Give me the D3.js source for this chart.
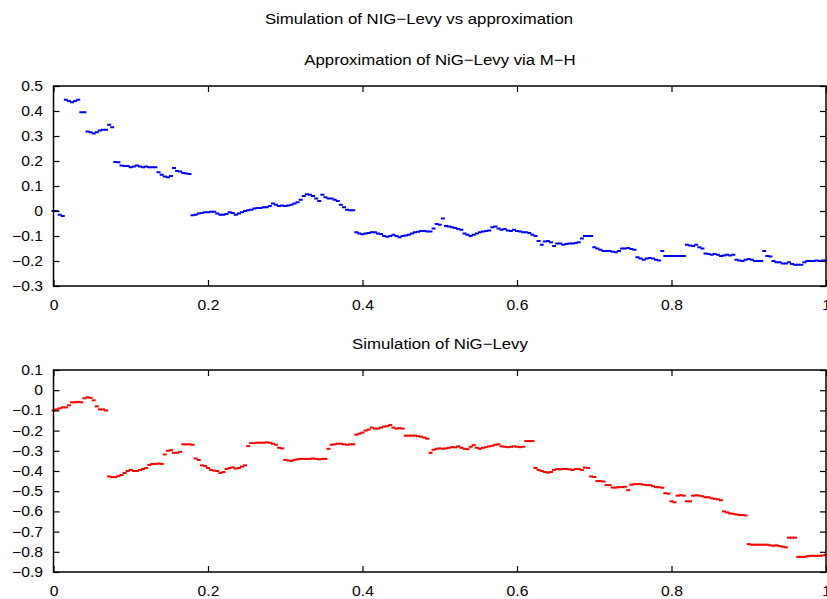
<!DOCTYPE html>
<html>
<head>
<meta charset="utf-8">
<script src="https://cdn.jsdelivr.net/npm/d3@7"></script>
<style>
  body { margin: 0; background: #fff; }
  svg { display: block; }
  .axis text { font-family: "Liberation Sans", Arial, sans-serif; font-size: 14px; fill: #000; }
  .axis line { stroke: #000; stroke-width: 1.2; }
  .title { font-family: "Liberation Sans", Arial, sans-serif; font-size: 15px; fill: #000; }
</style>
</head>
<body>
<div id="canvas"></div>
<script>
// sample spacing of both paths (regular time grid on [0,1])
var tStep = 0.004;

// M-H approximation path (one value per 0.004)
var approxPath = [
  0.0, 0.0, -0.015, -0.02, 0.445, 0.44, 0.435, 0.44, 0.445, 0.395,
  0.395, 0.318, 0.315, 0.31, 0.315, 0.322, 0.325, 0.325, 0.345, 0.335,
  0.196, 0.195, 0.182, 0.18, 0.18, 0.175, 0.178, 0.182, 0.178, 0.175,
  0.178, 0.175, 0.175, 0.175, 0.155, 0.145, 0.138, 0.135, 0.14, 0.172,
  0.16, 0.158, 0.152, 0.15, 0.148, -0.017, -0.015, -0.01, -0.008, -0.005,
  -0.005, -0.003, -0.003, -0.01, -0.015, -0.015, -0.012, -0.005, -0.008, -0.015,
  -0.01, -0.005, 0.0, 0.003, 0.005, 0.01, 0.012, 0.012, 0.015, 0.015,
  0.02, 0.03, 0.025, 0.02, 0.022, 0.02, 0.022, 0.025, 0.03, 0.035,
  0.045, 0.06, 0.067, 0.065, 0.06, 0.05, 0.04, 0.065, 0.055, 0.05,
  0.05, 0.045, 0.04, 0.025, 0.015, 0.005, 0.003, 0.003, -0.085, -0.09,
  -0.093, -0.09, -0.088, -0.085, -0.085, -0.09, -0.092, -0.1, -0.103, -0.1,
  -0.095, -0.1, -0.105, -0.1, -0.098, -0.095, -0.09, -0.085, -0.083, -0.08,
  -0.08, -0.082, -0.082, -0.07, -0.052, -0.055, -0.03, -0.06, -0.062, -0.065,
  -0.068, -0.072, -0.075, -0.09, -0.095, -0.1, -0.095, -0.09, -0.085, -0.082,
  -0.08, -0.078, -0.065, -0.062, -0.07, -0.075, -0.072, -0.078, -0.08, -0.075,
  -0.08, -0.082, -0.085, -0.085, -0.088, -0.095, -0.1, -0.12, -0.135, -0.122,
  -0.12, -0.125, -0.14, -0.13, -0.13, -0.135, -0.132, -0.13, -0.13, -0.128,
  -0.125, -0.11, -0.1, -0.1, -0.1, -0.145, -0.15, -0.155, -0.16, -0.16,
  -0.16, -0.163, -0.165, -0.16, -0.15, -0.15, -0.148, -0.152, -0.155, -0.185,
  -0.19, -0.195, -0.19, -0.188, -0.19, -0.195, -0.198, -0.16, -0.18, -0.18,
  -0.18, -0.18, -0.18, -0.18, -0.18, -0.135, -0.138, -0.14, -0.135, -0.145,
  -0.15, -0.17, -0.172, -0.175, -0.172, -0.175, -0.18, -0.178, -0.175, -0.178,
  -0.175, -0.195, -0.198, -0.2, -0.195, -0.192, -0.195, -0.2, -0.2, -0.2,
  -0.16, -0.18, -0.182, -0.2, -0.205, -0.205, -0.21, -0.21, -0.205, -0.212,
  -0.215, -0.215, -0.215, -0.205, -0.2, -0.2, -0.2, -0.198, -0.2, -0.198,
  -0.198
];

// simulated NIG-Levy path
var nigPath = [
  -0.1, -0.095, -0.09, -0.085, -0.085, -0.075, -0.06, -0.06, -0.058, -0.06,
  -0.04, -0.035, -0.038, -0.05, -0.08, -0.095, -0.095, -0.1, -0.427, -0.43,
  -0.43, -0.425, -0.42, -0.41, -0.4, -0.395, -0.4, -0.4, -0.395, -0.39,
  -0.385, -0.37, -0.365, -0.365, -0.363, -0.365, -0.318, -0.3, -0.297, -0.31,
  -0.31, -0.305, -0.268, -0.268, -0.268, -0.27, -0.338, -0.345, -0.372, -0.375,
  -0.385, -0.395, -0.398, -0.4, -0.41, -0.405, -0.39, -0.385, -0.382, -0.388,
  -0.385, -0.378, -0.372, -0.277, -0.262, -0.262, -0.26, -0.26, -0.26, -0.258,
  -0.26, -0.265, -0.27, -0.285, -0.288, -0.345, -0.348, -0.35, -0.345, -0.342,
  -0.34, -0.34, -0.34, -0.34, -0.338, -0.34, -0.342, -0.34, -0.34, -0.29,
  -0.27, -0.268, -0.265, -0.265, -0.268, -0.27, -0.268, -0.268, -0.22, -0.215,
  -0.21, -0.2, -0.195, -0.185, -0.19, -0.19, -0.185, -0.18, -0.178, -0.172,
  -0.185, -0.19, -0.188, -0.19, -0.225, -0.225, -0.225, -0.225, -0.228, -0.23,
  -0.235, -0.24, -0.31, -0.295, -0.29, -0.288, -0.29, -0.288, -0.285, -0.282,
  -0.283, -0.278, -0.285, -0.29, -0.292, -0.28, -0.272, -0.285, -0.29, -0.285,
  -0.282, -0.278, -0.275, -0.27, -0.268, -0.278, -0.28, -0.282, -0.28, -0.278,
  -0.28, -0.282, -0.28, -0.252, -0.252, -0.252, -0.385, -0.395, -0.4, -0.405,
  -0.408, -0.405, -0.395, -0.39, -0.392, -0.39, -0.39, -0.392, -0.395, -0.39,
  -0.39, -0.395, -0.383, -0.385, -0.427, -0.43, -0.45, -0.45, -0.452, -0.47,
  -0.47, -0.482, -0.482, -0.48, -0.48, -0.478, -0.495, -0.468, -0.465, -0.465,
  -0.465, -0.468, -0.47, -0.47, -0.475, -0.48, -0.48, -0.483, -0.51, -0.512,
  -0.55, -0.555, -0.522, -0.52, -0.522, -0.55, -0.55, -0.522, -0.52, -0.522,
  -0.525, -0.53, -0.53, -0.535, -0.538, -0.54, -0.545, -0.6, -0.605, -0.61,
  -0.612, -0.615, -0.618, -0.618, -0.62, -0.762, -0.765, -0.765, -0.765, -0.765,
  -0.765, -0.765, -0.768, -0.77, -0.768, -0.772, -0.775, -0.778, -0.73, -0.73,
  -0.73, -0.825, -0.825, -0.825, -0.822, -0.82, -0.82, -0.82, -0.82, -0.818,
  -0.815
];

// tick values
var xTicks = [0, 0.2, 0.4, 0.6, 0.8, 1];
var yTicksTop = [-0.3, -0.2, -0.1, 0, 0.1, 0.2, 0.3, 0.4, 0.5];
var yTicksBottom = [-0.9, -0.8, -0.7, -0.6, -0.5, -0.4, -0.3, -0.2, -0.1, 0, 0.1];

var W = 827, H = 599;
var stretch = 1.12; // original lettering is a bit wider than Liberation Sans

var svg = d3.select('#canvas').append('svg')
    .attr('width', W)
    .attr('height', H);

svg.append('rect').attr('width', W).attr('height', H).attr('fill', '#fff');

svg.append('text')
    .attr('class', 'title')
    .attr('text-anchor', 'middle')
    .attr('transform', 'translate(419,24) scale(' + stretch + ',1)')
    .text('Simulation of NIG\u2212Levy vs approximation');

var fmt = d3.format('~g');

function panel(opts){
    var x = d3.scaleLinear().domain([0, 1]).range([53.5, 826]);
    var y = d3.scaleLinear().domain(opts.yDomain).range([opts.bottom, opts.top]);

    var g = svg.append('g');

    // subplot title
    g.append('text')
        .attr('class', 'title')
        .attr('text-anchor', 'middle')
        .attr('transform', 'translate(440,' + (opts.top - 21) + ') scale(' + stretch + ',1)')
        .text(opts.title);

    // points (short dashes, dense enough to read as a broken line)
    g.append('g').selectAll('rect')
        .data(opts.values)
        .enter().append('rect')
        .attr('x', function(d, i){ return x(i * tStep) - 2; })
        .attr('y', function(d){ return y(d) - 1; })
        .attr('width', 4)
        .attr('height', 2)
        .attr('fill', opts.color);

    // axes, ticks pointing inward
    var axB = g.append('g').attr('class', 'axis')
        .attr('transform', 'translate(0,' + opts.bottom + ')')
        .call(d3.axisBottom(x).tickValues(xTicks).tickFormat(fmt).tickSize(-6).tickSizeOuter(0).tickPadding(14));
    var axT = g.append('g').attr('class', 'axis')
        .attr('transform', 'translate(0,' + opts.top + ')')
        .call(d3.axisTop(x).tickValues(xTicks).tickFormat('').tickSize(-6).tickSizeOuter(0));
    var axL = g.append('g').attr('class', 'axis')
        .attr('transform', 'translate(53.5,0)')
        .call(d3.axisLeft(y).tickValues(opts.yTicks).tickFormat(fmt).tickSize(-6).tickSizeOuter(0));
    var axR = g.append('g').attr('class', 'axis')
        .attr('transform', 'translate(826,0)')
        .call(d3.axisRight(y).tickValues(opts.yTicks).tickFormat('').tickSize(-6).tickSizeOuter(0));

    [axB, axT, axL, axR].forEach(function(a){ a.select('.domain').remove(); });

    axB.selectAll('text').attr('transform', 'scale(' + stretch + ',1)');
    axL.selectAll('text')
        .attr('x', -10.5 / stretch)
        .attr('transform', 'scale(' + stretch + ',1)');

    // frame
    g.append('rect')
        .attr('x', 53.5)
        .attr('y', opts.top)
        .attr('width', 826 - 53.5)
        .attr('height', opts.bottom - opts.top)
        .attr('fill', 'none')
        .attr('stroke', '#000')
        .attr('stroke-width', 1.5);
}

panel({
    title: 'Approximation of NiG\u2212Levy via M\u2212H',
    values: approxPath,
    color: '#0000ff',
    yDomain: [-0.3, 0.5],
    yTicks: yTicksTop,
    top: 86,
    bottom: 286
});

panel({
    title: 'Simulation of NiG\u2212Levy',
    values: nigPath,
    color: '#ff0000',
    yDomain: [-0.9, 0.1],
    yTicks: yTicksBottom,
    top: 370,
    bottom: 572
});
</script>
</body>
</html>
